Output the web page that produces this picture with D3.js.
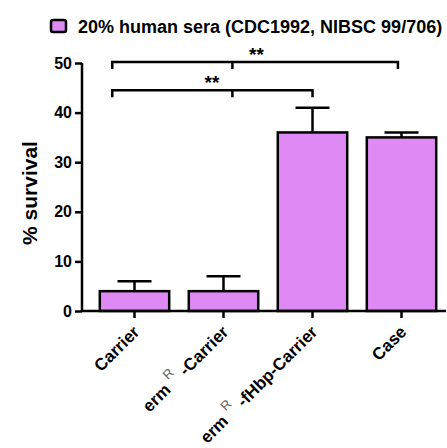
<!DOCTYPE html>
<html>
<head>
<meta charset="utf-8">
<script src="https://cdn.jsdelivr.net/npm/d3@7"></script>
<style>
body{margin:0;background:#fff;}
text{font-family:Arial,"Liberation Sans",sans-serif;}
</style>
</head>
<body>
<div id="a"></div>
<script>
// data
var categories = ["Carrier", "ermR-Carrier", "ermR-fHbp-Carrier", "Case"];
var labelParts = [["Carrier"], ["erm", "R", "-Carrier"], ["erm", "R", "-fHbp-Carrier"], ["Case"]];
var means = [4, 4, 36, 35];
var errUpper = [6, 7, 41, 36];
var yTicks = [0, 10, 20, 30, 40, 50];
var legendLabel = "20% human sera (CDC1992, NIBSC 99/706)";
// significance brackets: [left, middle, right] in category index units, height in % units
var brackets = [
  {l: -0.25, m: 1.1, r: 2.0, y: 44.5, stars: "**", sx: 0.87},
  {l: -0.25, m: 1.1, r: 2.96, y: 50.2, stars: "**", sx: 1.37}
];

var W = 447, H = 448;
var barColor = "#de89f4";

svg = d3.select("#a").append("svg")
  .attr("width", W)
  .attr("height", H);

var x = d3.scaleBand().domain(categories).range([90, 446]).paddingInner(0.22).paddingOuter(0.11);
var y = d3.scaleLinear().domain([0, 50]).range([311, 63]);
var idx = function(i){ return x.range()[0] + x.step()*(i + 0.5); };
var xc = function(d){ return x(d) + x.bandwidth()/2; };

// bars
svg.selectAll("rect.bar")
  .data(means)
  .enter()
  .append("rect")
  .attr("class", "bar")
  .attr("x", function(d,i){ return x(categories[i]); })
  .attr("y", function(d){ return y(d); })
  .attr("width", x.bandwidth())
  .attr("height", function(d){ return y(0) - y(d); })
  .attr("fill", barColor)
  .attr("stroke", "#000")
  .attr("stroke-width", 2.5);

// error bars (upper only)
svg.selectAll("line.err")
  .data(errUpper)
  .enter()
  .append("line")
  .attr("x1", function(d,i){ return xc(categories[i]); })
  .attr("x2", function(d,i){ return xc(categories[i]); })
  .attr("y1", function(d,i){ return y(means[i]); })
  .attr("y2", function(d){ return y(d); })
  .attr("stroke", "#000").attr("stroke-width", 2.5);
svg.selectAll("line.cap")
  .data(errUpper)
  .enter()
  .append("line")
  .attr("x1", function(d,i){ return xc(categories[i]) - 17; })
  .attr("x2", function(d,i){ return xc(categories[i]) + 17; })
  .attr("y1", function(d){ return y(d); })
  .attr("y2", function(d){ return y(d); })
  .attr("stroke", "#000").attr("stroke-width", 2.5);

// y axis
var yAxis = svg.append("g")
  .attr("transform", "translate(82,0)")
  .call(d3.axisLeft(y).tickValues(yTicks).tickSize(7).tickPadding(3));
yAxis.select(".domain").attr("stroke-width", 2.5).attr("d", "M0," + y(50) + "V" + y(0));
yAxis.selectAll(".tick line").attr("stroke-width", 2.5);
yAxis.selectAll(".tick text").attr("font-size", 16).attr("font-weight", "bold").attr("fill", "#000")
  .attr("font-family", "Arial, 'Liberation Sans', sans-serif");

// x axis
var xAxis = svg.append("g")
  .attr("transform", "translate(0," + y(0) + ")")
  .call(d3.axisBottom(x).tickSize(7).tickFormat(""));
xAxis.select(".domain").attr("stroke-width", 2.5).attr("d", "M82,0H446");
xAxis.selectAll(".tick line").attr("stroke-width", 2.5);

// x labels, rotated
var lab = svg.selectAll("text.xl")
  .data(labelParts)
  .enter()
  .append("text")
  .attr("class", "xl")
  .attr("text-anchor", "end")
  .attr("font-size", 17)
  .attr("font-weight", "bold")
  .attr("transform", function(d,i){ return "translate(" + (xc(categories[i]) + 6) + "," + (y(0) + 22) + ") rotate(-45)"; });
lab.each(function(parts){
  var t = d3.select(this);
  parts.forEach(function(p, k){
    if (parts.length == 3 && k == 1) {
      t.append("tspan").attr("dy", -10).attr("dx", 5).attr("font-weight", "normal").attr("font-size", 13).attr("fill", "#666").text(p);
    } else if (parts.length == 3 && k == 2) {
      t.append("tspan").attr("dy", 10).attr("dx", 6).text(p);
    } else {
      t.append("tspan").text(p);
    }
  });
});

// y label
svg.append("text")
  .attr("transform", "translate(37,193) rotate(-90)")
  .attr("text-anchor", "middle")
  .attr("font-size", 21)
  .attr("font-weight", "bold")
  .text("% survival");

// significance brackets
brackets.forEach(function(b){
  var yy = y(b.y);
  svg.append("path")
    .attr("d", "M" + idx(b.l) + "," + (yy + 7) + "V" + yy + "H" + idx(b.r) + "V" + (yy + 7) +
               "M" + idx(b.m) + "," + yy + "V" + (yy + 7))
    .attr("fill", "none").attr("stroke", "#000").attr("stroke-width", 2.5);
  svg.append("text")
    .attr("x", idx(b.sx)).attr("y", yy - 1)
    .attr("text-anchor", "middle")
    .attr("font-size", 19).attr("font-weight", "bold")
    .text(b.stars);
});

// legend
svg.append("rect")
  .attr("x", 51).attr("y", 20).attr("width", 15).attr("height", 12).attr("rx", 2)
  .attr("fill", barColor).attr("stroke", "#000").attr("stroke-width", 2.5);
svg.append("text")
  .attr("x", 78).attr("y", 32.5)
  .attr("font-size", 18)
  .attr("font-weight", "bold")
  .text(legendLabel);
</script>
</body>
</html>
